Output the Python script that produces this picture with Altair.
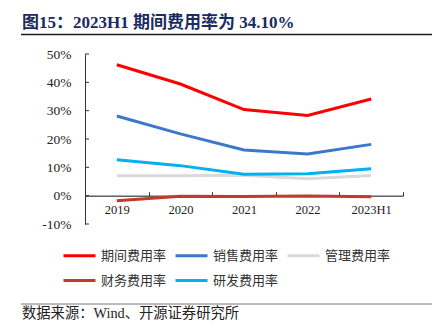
import altair as alt
import pandas as pd

years = ["2019", "2020", "2021", "2022", "2023H1"]
series_names = ["期间费用率", "销售费用率", "管理费用率", "财务费用率", "研发费用率"]
colors = ["#FF0000", "#3B78CB", "#D9D9D9", "#C23B2A", "#00B0F0"]
period_rate = [46.2, 39.4, 30.4, 28.3, 34.1]
sales_rate = [28.1, 21.8, 16.1, 14.7, 18.1]
admin_rate = [7.0, 7.0, 7.2, 6.0, 7.1]
finance_rate = [-1.8, -0.2, -0.3, -0.1, -0.4]
rd_rate = [12.7, 10.6, 7.6, 7.7, 9.5]
y_ticks = [-10, 0, 10, 20, 30, 40, 50]

title_text = "图15：2023H1 期间费用率为 34.10%"
source_text = "数据来源：Wind、开源证券研究所"

all_series = [period_rate, sales_rate, admin_rate, finance_rate, rd_rate]
rows = []
for name, vals in zip(series_names, all_series):
    for yr, v in zip(years, vals):
        rows.append({"year": yr, "series": name, "value": v})
df = pd.DataFrame(rows)
tick_df = pd.DataFrame({"v": y_ticks})
one = pd.DataFrame({"a": [0]})

W, H = 318, 170
zero_px = H * 50 / 60
step = W / 5

SERIF = "'Liberation Serif', 'Noto Sans CJK SC'"
CJK = "'Noto Sans CJK SC'"

y_scale = alt.Scale(domain=[-10, 50], nice=False, zero=False)
y_axis = alt.Axis(values=y_ticks, labelExpr="datum.value + '%'", ticks=False,
                  domain=True, domainColor="#333333", domainWidth=1, grid=False,
                  labelPadding=14, labelFontSize=13.5, labelFont=SERIF,
                  labelColor="#222222", title=None)

x_top_axis = alt.Axis(orient="top", offset=-zero_px, labels=False, domain=True,
                      domainColor="#111111", domainWidth=1, ticks=True, tickSize=4,
                      tickOffset=step / 2, tickColor="#333333", grid=False, title=None)
x_bottom_axis = alt.Axis(orient="bottom", offset=-(H - zero_px), labels=True,
                         domain=False, ticks=False, labelPadding=8,
                         labelFontSize=12.5, labelFont=SERIF, labelColor="#222222",
                         labelAngle=0, grid=False, title=None)

lines = alt.Chart(df).mark_line(strokeWidth=3).encode(
    x=alt.X("year:N", sort=years, axis=x_top_axis),
    y=alt.Y("value:Q", scale=y_scale, axis=y_axis),
    color=alt.Color("series:N", sort=series_names,
                    scale=alt.Scale(domain=series_names, range=colors),
                    legend=alt.Legend(orient="none", legendX=-23, legendY=184,
                                      direction="horizontal",
                                      columns=3, title=None, symbolType="stroke",
                                      symbolSize=1024, symbolStrokeWidth=3,
                                      labelFont=CJK, labelFontSize=13,
                                      labelColor="#333333", labelOffset=4,
                                      columnPadding=2, rowPadding=-6,
                                      labelLimit=200)),
)

labels_layer = alt.Chart(df).mark_point(opacity=0).encode(
    x=alt.X("year:N", sort=years, axis=x_bottom_axis),
    y=alt.Y("value:Q", scale=y_scale, axis=y_axis),
)

yticks_layer = alt.Chart(tick_df).mark_rule(color="#333333", strokeWidth=1).encode(
    y=alt.Y("v:Q", scale=y_scale, axis=y_axis),
    x=alt.value(0), x2=alt.value(4),
)

title_layer = alt.Chart(pd.DataFrame({"t": [title_text]})).mark_text(
    align="left", baseline="alphabetic", font=SERIF, fontSize=17,
    fontWeight="bold", color="#1A2B5F"
).encode(text="t:N", x=alt.value(-63), y=alt.value(-26))

title_rule = alt.Chart(one).mark_rule(color="#1a1a2e", strokeWidth=1.5).encode(
    x=alt.value(-64), x2=alt.value(347), y=alt.value(-19.5))

bottom_rule = alt.Chart(one).mark_rule(color="#777777", strokeWidth=1).encode(
    x=alt.value(-64), x2=alt.value(347), y=alt.value(250))

source_layer = alt.Chart(pd.DataFrame({"t": [source_text]})).mark_text(
    align="left", baseline="middle", font=SERIF, fontSize=14.3, color="#222222"
).encode(text="t:N", x=alt.value(-63), y=alt.value(260))

chart = alt.layer(
    labels_layer, yticks_layer, lines, title_layer, title_rule, bottom_rule, source_layer
).resolve_axis(x="independent").properties(
    width=W, height=H,
    autosize=alt.AutoSizeParams(type="none"),
    padding={"left": 85, "top": 54, "right": 36, "bottom": 112},
    background="white",
).configure_view(stroke=None)

chart.save("out.html", embed_options={"renderer": "svg", "actions": False})
